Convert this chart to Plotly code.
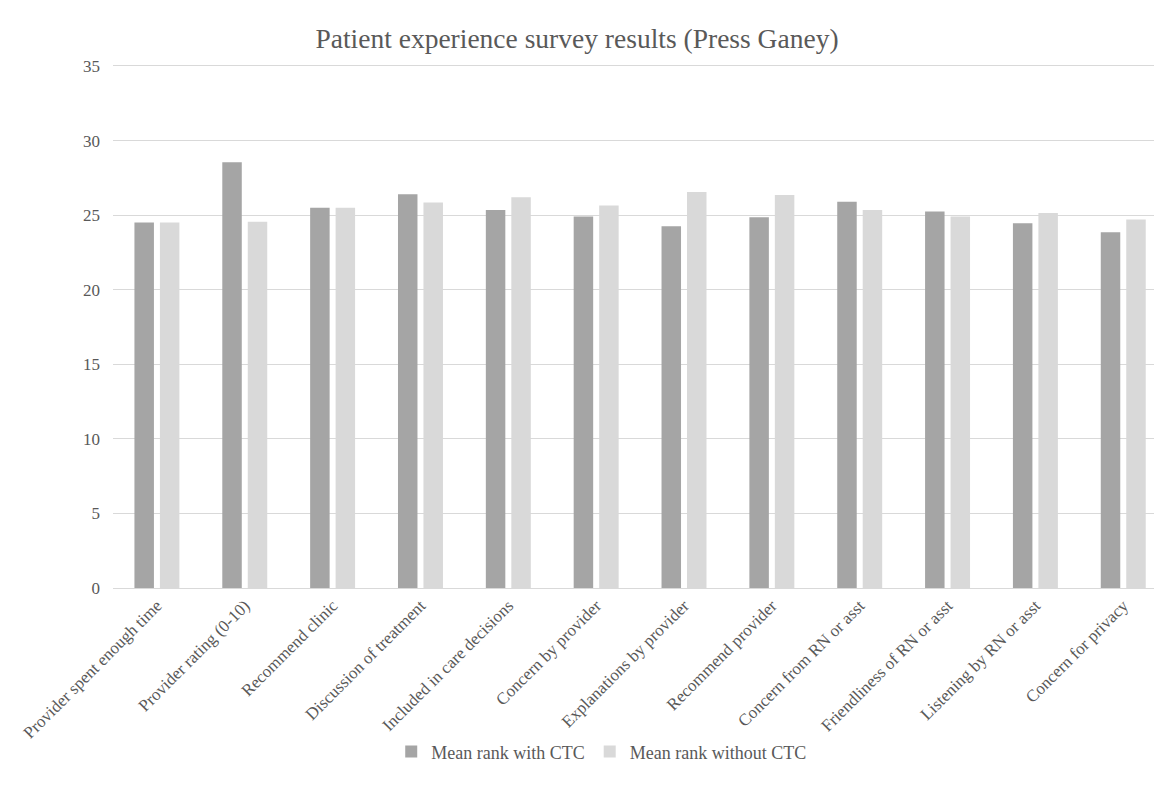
import plotly.graph_objects as go

categories = [
    "Provider spent enough time",
    "Provider rating (0-10)",
    "Recommend clinic",
    "Discussion of treatment",
    "Included in care decisions",
    "Concern by provider",
    "Explanations by provider",
    "Recommend provider",
    "Concern from RN or asst",
    "Friendliness of RN or asst",
    "Listening by RN or asst",
    "Concern for privacy",
]
with_ctc = [24.5, 28.55, 25.5, 26.4, 25.35, 24.9, 24.25, 24.85, 25.9, 25.25, 24.45, 23.85]
without_ctc = [24.5, 24.55, 25.5, 25.85, 26.2, 25.65, 26.55, 26.35, 25.35, 24.9, 25.15, 24.7]
y_ticks = [0, 5, 10, 15, 20, 25, 30, 35]

serif = "Liberation Serif, Times New Roman, serif"
text_color = "#595959"

fig = go.Figure()
fig.add_trace(go.Bar(name="Mean rank with CTC", x=categories, y=with_ctc,
                     marker=dict(color="#A5A5A5", line=dict(width=0))))
fig.add_trace(go.Bar(name="Mean rank without CTC", x=categories, y=without_ctc,
                     marker=dict(color="#D9D9D9", line=dict(width=0))))

fig.update_layout(
    width=1154, height=786,
    margin=dict(l=113, r=0, t=63, b=198),
    paper_bgcolor="white", plot_bgcolor="white",
    barmode="group", bargap=0.42, bargroupgap=0.235,
    font=dict(family=serif, color=text_color, size=17),
    title=dict(text="Patient experience survey results (Press Ganey)",
               x=0.5, xanchor="center", y=1 - 38 / 786, yanchor="middle",
               font=dict(family=serif, size=27.5, color=text_color)),
    xaxis=dict(tickangle=-45, showline=True, linecolor="#D9D9D9", linewidth=1,
               range=[-0.5, 11.35], ticks="", tickfont=dict(size=17, color=text_color)),
    yaxis=dict(range=[0, 35.2], tickvals=y_ticks, showgrid=True, gridcolor="#D9D9D9",
               gridwidth=1, zeroline=False, ticks="", ticklabelstandoff=12,
               tickfont=dict(size=17, color=text_color)),
    legend=dict(orientation="h", x=0.469, xanchor="center", y=-0.312, yanchor="middle",
                font=dict(size=18, color=text_color), itemwidth=30),
)

fig.write_html("out.html")
